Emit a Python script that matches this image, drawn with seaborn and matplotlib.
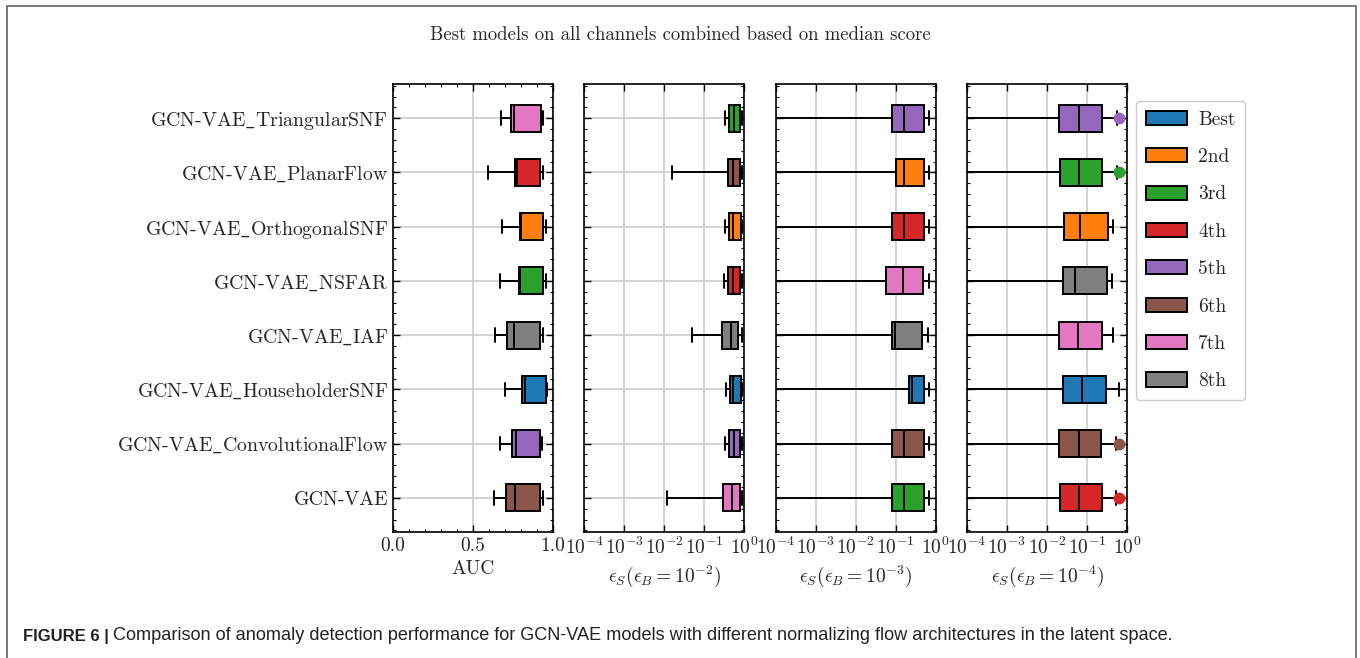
import numpy as np
import pandas as pd
import matplotlib
matplotlib.use("Agg")
import matplotlib.pyplot as plt
import matplotlib.ticker as mticker
from matplotlib.patches import Rectangle
import seaborn as sns

# model rows, top to bottom
models = ["GCN-VAE_TriangularSNF", "GCN-VAE_PlanarFlow", "GCN-VAE_OrthogonalSNF",
          "GCN-VAE_NSFAR", "GCN-VAE_IAF", "GCN-VAE_HouseholderSNF",
          "GCN-VAE_ConvolutionalFlow", "GCN-VAE"]
ranks = ["Best", "2nd", "3rd", "4th", "5th", "6th", "7th", "8th"]
rank_colors = ["#1f77b4", "#ff7f0e", "#2ca02c", "#d62728",
               "#9467bd", "#8c564b", "#e377c2", "#7f7f7f"]

# AUC
auc_rank = ["7th", "4th", "2nd", "3rd", "8th", "Best", "5th", "6th"]
auc_lo = [0.673, 0.595, 0.679, 0.669, 0.635, 0.700, 0.669, 0.631]
auc_q1 = [0.736, 0.761, 0.795, 0.790, 0.711, 0.805, 0.746, 0.704]
auc_med = [0.753, 0.774, 0.800, 0.795, 0.753, 0.826, 0.767, 0.765]
auc_q3 = [0.925, 0.918, 0.939, 0.935, 0.918, 0.958, 0.920, 0.916]
auc_hi = [0.939, 0.935, 0.956, 0.954, 0.937, 0.962, 0.929, 0.935]

# eps_S at eps_B = 1e-2
e2_rank = ["3rd", "6th", "2nd", "4th", "8th", "Best", "5th", "7th"]
e2_lo = [0.33, 0.0155, 0.33, 0.316, 0.048, 0.34, 0.32, 0.0114]
e2_q1 = [0.41, 0.40, 0.41, 0.40, 0.27, 0.43, 0.41, 0.29]
e2_med = [0.54, 0.53, 0.53, 0.52, 0.455, 0.53, 0.55, 0.50]
e2_q3 = [0.78, 0.78, 0.81, 0.77, 0.695, 0.81, 0.78, 0.77]
e2_hi = [0.86, 0.86, 0.87, 0.86, 0.86, 0.87, 0.86, 0.86]

# eps_S at eps_B = 1e-3
e3_rank = ["5th", "2nd", "4th", "7th", "8th", "Best", "6th", "3rd"]
e3_lo = [0.0] * 8
e3_q1 = [0.080, 0.101, 0.080, 0.057, 0.079, 0.221, 0.079, 0.079]
e3_med = [0.157, 0.157, 0.157, 0.151, 0.094, 0.262, 0.157, 0.157]
e3_q3 = [0.51, 0.51, 0.51, 0.484, 0.448, 0.51, 0.51, 0.51]
e3_hi = [0.695, 0.695, 0.695, 0.68, 0.63, 0.695, 0.695, 0.695]

# eps_S at eps_B = 1e-4
e4_rank = ["5th", "3rd", "2nd", "8th", "7th", "Best", "6th", "4th"]
e4_lo = [0.0] * 8
e4_q1 = [0.0204, 0.0207, 0.0262, 0.0257, 0.0204, 0.0257, 0.0199, 0.0207]
e4_med = [0.0624, 0.064, 0.066, 0.051, 0.058, 0.0728, 0.0624, 0.064]
e4_q3 = [0.235, 0.235, 0.327, 0.309, 0.235, 0.297, 0.227, 0.23]
e4_hi = [0.55, 0.55, 0.446, 0.42, 0.446, 0.63, 0.53, 0.54]
e4_flier = [0.63, 0.63, None, None, None, None, 0.63, 0.62]

none8 = [None] * 8


def box_frame(rank, lo, q1, med, q3, hi, flier):
    # 9 samples per box so that the 25/50/75 percentiles hit q1/med/q3 exactly
    rows = []
    for j, m in enumerate(models):
        extra = med[j] if flier[j] is None else flier[j]
        vals = [lo[j], q1[j], q1[j], med[j], med[j], q3[j], q3[j], hi[j], extra]
        rows += [(m, rank[j], v) for v in vals]
    return pd.DataFrame(rows, columns=["model", "rank", "value"])


panels = [
    ("AUC", auc_rank, box_frame(auc_rank, auc_lo, auc_q1, auc_med, auc_q3, auc_hi, none8), False),
    (r"$\epsilon_S(\epsilon_B = 10^{-2})$", e2_rank,
     box_frame(e2_rank, e2_lo, e2_q1, e2_med, e2_q3, e2_hi, none8), True),
    (r"$\epsilon_S(\epsilon_B = 10^{-3})$", e3_rank,
     box_frame(e3_rank, e3_lo, e3_q1, e3_med, e3_q3, e3_hi, none8), True),
    (r"$\epsilon_S(\epsilon_B = 10^{-4})$", e4_rank,
     box_frame(e4_rank, e4_lo, e4_q1, e4_med, e4_q3, e4_hi, e4_flier), True),
]

sns.set_style("ticks")
plt.rcParams["font.family"] = "cmr10"
plt.rcParams["mathtext.fontset"] = "cm"
plt.rcParams["axes.formatter.use_mathtext"] = True
plt.rcParams["axes.unicode_minus"] = False

palette = dict(zip(ranks, rank_colors))
fs = 14

fig, axes = plt.subplots(1, 4, figsize=(13.6, 6.58), dpi=100)
fig.subplots_adjust(left=0.289, right=0.8287, bottom=0.1915, top=0.8723, wspace=0.196)

for i, (ax, (xlabel, rank, df, is_log)) in enumerate(zip(axes, panels)):
    sns.boxplot(data=df, x="value", y="model", hue="rank", order=models,
                hue_order=ranks, palette=palette, saturation=1, dodge=False,
                width=0.5, linecolor="black", linewidth=1.4, fliersize=7.5,
                flierprops={"marker": "o"}, orient="y",
                legend="full" if i == 3 else False, ax=ax)

    # fliers take the colour of their box
    row_color = {j: palette[r] for j, r in enumerate(rank)}
    for ln in ax.lines:
        if ln.get_marker() == "o" and len(ln.get_xdata()) > 0:
            c = row_color[int(round(ln.get_ydata()[0]))]
            ln.set_markerfacecolor(c)
            ln.set_markeredgecolor(c)

    if is_log:
        ax.set_xscale("log")
        ax.set_xlim(1e-4, 1)
        ax.xaxis.set_major_locator(mticker.LogLocator(base=10, numticks=10))
        ax.xaxis.set_minor_locator(mticker.NullLocator())
        ax.xaxis.set_major_formatter(
            mticker.FuncFormatter(lambda v, p: r"$10^{%d}$" % round(np.log10(v))))
    else:
        ax.set_xlim(0, 1)
        ax.xaxis.set_major_locator(mticker.MultipleLocator(0.5))
        ax.xaxis.set_minor_locator(mticker.MultipleLocator(0.1))
        ax.xaxis.set_major_formatter(mticker.FormatStrFormatter("%.1f"))

    ax.set_ylim(7.63, -0.63)
    ax.yaxis.set_minor_locator(mticker.MultipleLocator(0.2))
    ax.grid(True, which="major", color="#cccccc", linewidth=1.2)
    ax.set_axisbelow(True)
    ax.tick_params(which="both", direction="in", top=True, right=True,
                   labelsize=fs, color="black")
    ax.tick_params(which="major", length=5, width=1)
    ax.tick_params(which="minor", length=2.5, width=0.8)
    for sp in ax.spines.values():
        sp.set_color("black")
        sp.set_linewidth(1.2)
    ax.set_xlabel(xlabel, fontsize=fs)
    ax.set_ylabel("")
    if i == 0:
        ax.set_yticks(range(len(models)))
        ax.set_yticklabels([m.replace("_", r"$\_$") for m in models], fontsize=14.3)
    else:
        ax.tick_params(labelleft=False)

sns.move_legend(axes[3], "upper left", bbox_to_anchor=(1.056, 0.962), title=None,
                frameon=True, fontsize=14, labelspacing=1.0, handlelength=2.1,
                handleheight=0.75, handletextpad=0.6, borderpad=0.5,
                borderaxespad=0, fancybox=True, edgecolor="#cccccc", framealpha=1)

fig.suptitle("Best models on all channels combined based on median score",
             y=1 - 35 / 658, va="center", fontsize=13.5)

# outer frame and caption
fig.patches.append(Rectangle((7 / 1360, -0.05), (1355.5 - 7) / 1360, 1.0409,
                             transform=fig.transFigure, fill=False,
                             edgecolor="#555555", linewidth=1.1))
cap_y = 1 - 636 / 658
t1 = fig.text(23 / 1360, cap_y, "FIGURE 6 |", family="Liberation Sans",
              fontweight="bold", fontsize=12, va="center", color="#222222")
fig.canvas.draw()
bb = t1.get_window_extent()
fig.text((bb.x1 + 4) / 1360, cap_y,
         "Comparison of anomaly detection performance for GCN-VAE models with "
         "different normalizing flow architectures in the latent space.",
         family="Liberation Sans", fontsize=13.1, va="center", color="#222222")

fig.savefig("out.png", dpi=100)
